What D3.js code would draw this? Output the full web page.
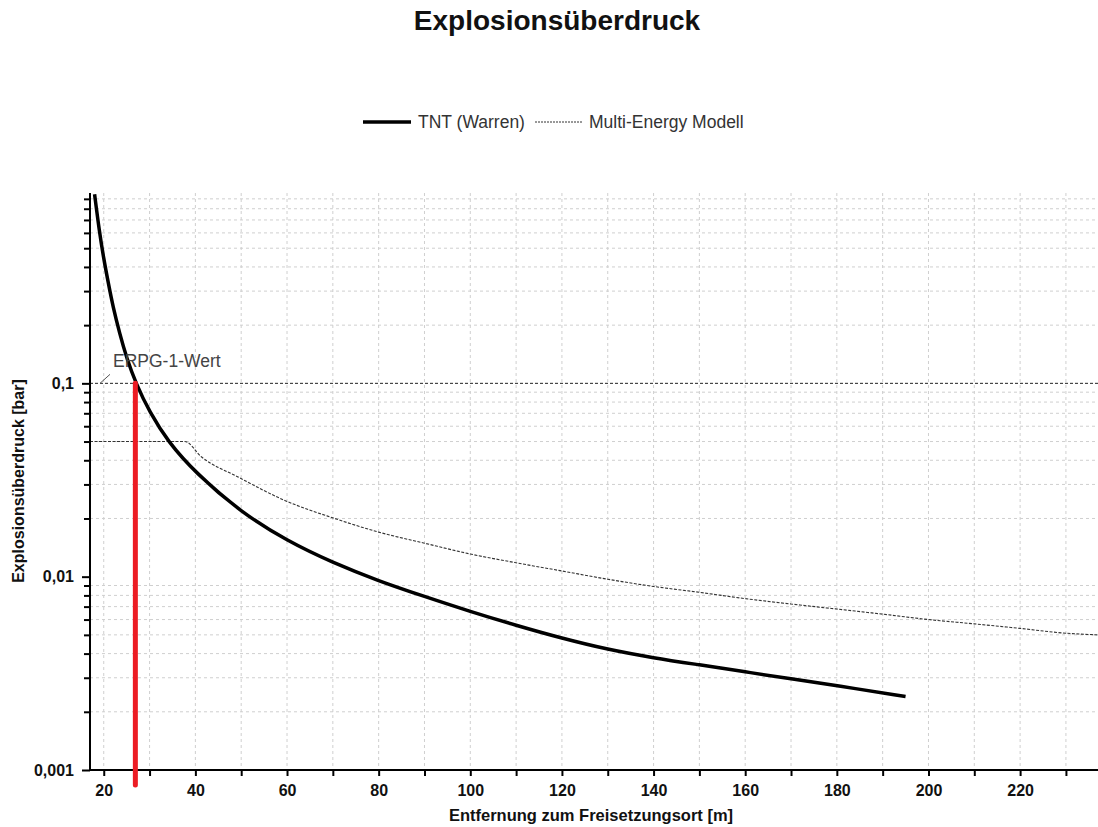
<!DOCTYPE html>
<html>
<head>
<meta charset="utf-8">
<script src="https://cdn.jsdelivr.net/npm/d3@7"></script>
<style>
  body { margin: 0; background: #fff; }
  text { font-family: "Liberation Sans", Arial, sans-serif; }
</style>
</head>
<body>
<div id="chart"></div>
<script>
// distance [m] and overpressure [bar]
var tntDist = [18, 19, 20, 21, 22, 23.5, 25, 27, 30, 34, 40, 50, 60, 70, 80, 90, 100, 110, 120, 130, 140, 150, 160, 170, 180, 195];
var tntPress = [0.95, 0.62, 0.44, 0.33, 0.25, 0.18, 0.135, 0.1, 0.071, 0.05, 0.0345, 0.0215, 0.0153, 0.0118, 0.0095, 0.0079, 0.0066, 0.0056, 0.0048, 0.0042, 0.0038, 0.0035, 0.00322, 0.00296, 0.00273, 0.0024];

var meDist = [17, 37.7, 41.3, 49.3, 59.5, 70.4, 80, 90, 100, 110, 120, 130, 140, 150, 160, 170, 180, 190, 200, 210, 220, 230, 237];
var mePress = [0.05, 0.05, 0.0417, 0.0328, 0.0248, 0.02, 0.017, 0.0149, 0.0131, 0.0118, 0.0107, 0.0097, 0.0089, 0.0083, 0.0077, 0.00722, 0.0068, 0.0064, 0.006, 0.0057, 0.0054, 0.0051, 0.005];

var erpgValue = 0.1;     // ERPG-1 threshold [bar]
var erpgDist = 26.9;     // distance where TNT curve hits threshold
var xTickValues = [20, 40, 60, 80, 100, 120, 140, 160, 180, 200, 220];
var yTickLabels = { 0.1: "0,1", 0.01: "0,01", 0.001: "0,001" };

var width = 1098, height = 827;
var margin = { top: 193, right: 0, bottom: 57, left: 90 };

var svg = d3.select("#chart")
    .append("svg")
    .attr("width", width)
    .attr("height", height);

var x = d3.scaleLinear()
    .domain([17, 237])
    .range([margin.left, width - margin.right]);

var y = d3.scaleLog()
    .domain([0.001, 0.965])
    .range([height - margin.bottom, margin.top]);

// title
svg.append("text")
    .attr("x", 557).attr("y", 30)
    .attr("text-anchor", "middle")
    .style("font-size", "28px").style("font-weight", "bold")
    .attr("fill", "#111")
    .text("Explosionsüberdruck");

// legend
var lg = svg.append("g").attr("transform", "translate(363,122)");
lg.append("line").attr("x1", 0).attr("x2", 48).attr("stroke", "#000").attr("stroke-width", 3.5);
lg.append("text").attr("x", 55).attr("y", 6).style("font-size", "17.5px").attr("fill", "#333").text("TNT (Warren)");
lg.append("line").attr("x1", 172).attr("x2", 220).attr("stroke", "#333").attr("stroke-width", 1).attr("stroke-dasharray", "2,1");
lg.append("text").attr("x", 226).attr("y", 6).style("font-size", "17.5px").attr("fill", "#333").text("Multi-Energy Modell");

// ticks for the log axis: 1..9 per decade
var yTicks = [];
[0.001, 0.01, 0.1].forEach(function(dec) {
    for (var k = 1; k <= 9; k++) yTicks.push(dec * k);
});
yTicks = yTicks.filter(function(d) { return d >= 0.001 && d <= y.domain()[1]; });
var isMajor = function(d) { return Math.abs(Math.log10(d) - Math.round(Math.log10(d))) < 1e-9; };

// grid
var grid = svg.append("g").attr("stroke", "#cfcfcf").attr("stroke-dasharray", "3,3").attr("stroke-width", 1);
d3.range(20, 237, 10).forEach(function(d) {
    grid.append("line").attr("x1", x(d)).attr("x2", x(d)).attr("y1", y.range()[1]).attr("y2", y.range()[0]);
});
yTicks.filter(function(d) { return !isMajor(d); }).forEach(function(d) {
    grid.append("line").attr("x1", x.range()[0]).attr("x2", x.range()[1]).attr("y1", y(d)).attr("y2", y(d));
});

svg.append("defs").append("clipPath").attr("id", "plot")
    .append("rect")
    .attr("x", x.range()[0]).attr("y", y.range()[1])
    .attr("width", x.range()[1] - x.range()[0])
    .attr("height", y.range()[0] - y.range()[1]);

var plot = svg.append("g").attr("clip-path", "url(#plot)");

// ERPG threshold line
plot.append("line")
    .attr("x1", x.range()[0]).attr("x2", x.range()[1])
    .attr("y1", y(erpgValue)).attr("y2", y(erpgValue))
    .attr("stroke", "#222").attr("stroke-width", 1).attr("stroke-dasharray", "3,2");

// multi-energy curve
var meLine = d3.line()
    .x(function(d, i) { return x(meDist[i]); })
    .y(function(d) { return y(d); })
    .curve(d3.curveMonotoneX);
plot.append("path")
    .attr("d", meLine(mePress))
    .attr("fill", "none").attr("stroke", "#333").attr("stroke-width", 1.1)
    .attr("stroke-dasharray", "3,1.5");

// TNT curve
var tntLine = d3.line()
    .x(function(d, i) { return x(tntDist[i]); })
    .y(function(d) { return y(d); })
    .curve(d3.curveBasis);
plot.append("path")
    .attr("d", tntLine(tntPress))
    .attr("fill", "none").attr("stroke", "#000").attr("stroke-width", 3.5);

// ERPG label with leader
svg.append("line")
    .attr("x1", x.range()[0] + 10).attr("y1", y(erpgValue))
    .attr("x2", x.range()[0] + 20).attr("y2", y(erpgValue) - 9)
    .attr("stroke", "#555").attr("stroke-width", 1);
svg.append("text")
    .attr("x", x.range()[0] + 23).attr("y", y(erpgValue) - 16)
    .style("font-size", "17.5px").attr("fill", "#444")
    .text("ERPG-1-Wert");

// axes
var xAxis = svg.append("g")
    .attr("transform", "translate(0," + y.range()[0] + ")")
    .call(d3.axisBottom(x).tickValues(d3.range(20, 237, 10)).tickSize(6).tickFormat(function(d) {
        return xTickValues.indexOf(d) >= 0 ? d : "";
    }));
xAxis.select(".domain").attr("stroke-width", 2).attr("d", "M" + (x.range()[0] - 1) + ",0H" + x.range()[1]);
xAxis.selectAll(".tick line").attr("stroke-width", 2);
xAxis.selectAll("text").style("font-size", "16px").style("font-weight", "bold").attr("fill", "#111").attr("dy", "1.05em");

var yAxis = svg.append("g")
    .attr("transform", "translate(" + x.range()[0] + ",0)")
    .call(d3.axisLeft(y).tickValues(yTicks).tickSize(7).tickFormat(function(d) {
        return isMajor(d) ? yTickLabels[+d.toPrecision(3)] : "";
    }));
yAxis.select(".domain").attr("stroke-width", 2).attr("d", "M0," + y.range()[1] + "V" + (y.range()[0] + 1));
yAxis.selectAll(".tick line").attr("stroke-width", 2)
    .attr("x2", function(d) { return isMajor(d) ? -8 : -6; });
yAxis.selectAll("text").style("font-size", "16px").style("font-weight", "bold").attr("fill", "#111").attr("x", -16);

// red marker line at the ERPG distance, running past the axis
svg.append("line")
    .attr("x1", x(erpgDist)).attr("x2", x(erpgDist))
    .attr("y1", y(erpgValue)).attr("y2", y.range()[0] + 15)
    .attr("stroke", "#ec1c24").attr("stroke-width", 5).attr("stroke-linecap", "round");

// axis titles
svg.append("text")
    .attr("x", 591).attr("y", 821)
    .attr("text-anchor", "middle")
    .style("font-size", "16.5px").style("font-weight", "bold").attr("fill", "#111")
    .text("Entfernung zum Freisetzungsort [m]");

svg.append("text")
    .attr("transform", "translate(24,481) rotate(-90)")
    .attr("text-anchor", "middle")
    .style("font-size", "16px").style("font-weight", "bold").attr("fill", "#111")
    .text("Explosionsüberdruck [bar]");
</script>
</body>
</html>
